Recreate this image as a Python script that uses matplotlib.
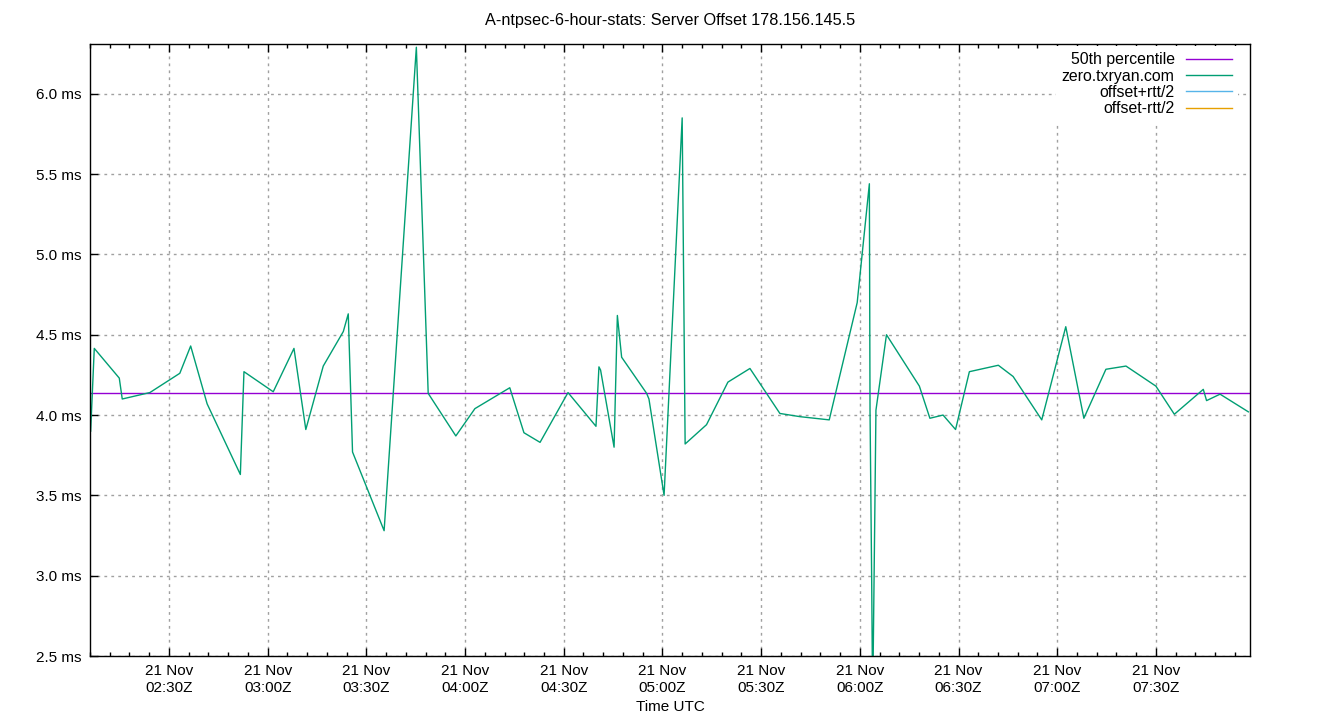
import pandas as pd
import numpy as np
import matplotlib
matplotlib.use('agg')
import matplotlib.pyplot as plt
import matplotlib.dates as mdates
from matplotlib.ticker import FuncFormatter, MultipleLocator

plt.rcParams['font.family'] = ['Liberation Sans', 'DejaVu Sans']

##### data (21 Nov, UTC)
day = '2025-11-21 '
times = ['02:06:12', '02:07:18', '02:14:54', '02:15:48', '02:24:12', '02:33:18',
         '02:36:36', '02:41:36', '02:51:42', '02:52:48', '03:01:42', '03:08:00',
         '03:11:36', '03:16:54', '03:23:00', '03:24:30', '03:25:48', '03:35:24',
         '03:45:12', '03:48:48', '03:57:12', '04:03:00', '04:13:36', '04:17:54',
         '04:22:48', '04:31:18', '04:39:48', '04:40:42', '04:41:12', '04:45:18',
         '04:46:18', '04:47:36', '04:55:12', '04:55:54', '05:00:30', '05:06:00',
         '05:06:54', '05:13:24', '05:19:54', '05:26:36', '05:35:42', '05:41:48',
         '05:50:42', '05:59:12', '06:02:54', '06:03:06', '06:03:36', '06:03:54',
         '06:04:36', '06:04:54', '06:08:06', '06:18:06', '06:21:18', '06:25:18',
         '06:29:06', '06:33:18', '06:42:06', '06:46:36', '06:55:18', '07:02:36',
         '07:08:06', '07:14:48', '07:20:54', '07:30:00', '07:35:36', '07:44:24',
         '07:45:24', '07:49:30', '07:58:06']
offset_ms = [3.90, 4.415, 4.23, 4.10, 4.14, 4.26,
             4.43, 4.07, 3.63, 4.27, 4.145, 4.415,
             3.91, 4.305, 4.52, 4.63, 3.77, 3.28,
             6.29, 4.135, 3.87, 4.04, 4.17, 3.89,
             3.83, 4.14, 3.93, 4.30, 4.28, 3.80,
             4.62, 4.36, 4.135, 4.10, 3.50, 5.85,
             3.82, 3.94, 4.205, 4.29, 4.01, 3.99,
             3.97, 4.70, 5.44, 4.03, 2.98, 2.20,
             3.47, 4.03, 4.50, 4.18, 3.98, 4.00,
             3.91, 4.27, 4.31, 4.24, 3.97, 4.55,
             3.98, 4.285, 4.305, 4.18, 4.005, 4.16,
             4.09, 4.13, 4.02]
median_ms = 4.137
x_start = '02:06:00'
x_end = '07:58:36'
y_min, y_max = 2.5, 6.31
#####


def main():
    t = pd.to_datetime([day + s for s in times])
    fig = plt.figure(figsize=(13.4, 7.2), dpi=100)
    ax = fig.add_axes([90/1340, 64/720, 1160/1340, 612/720])

    ax.plot([pd.Timestamp(day + x_start), pd.Timestamp(day + x_end)],
            [median_ms, median_ms], color='#9400d3', lw=1, label='50th percentile')
    ax.plot(t, offset_ms, color='#009e73', lw=1, label='zero.txryan.com')
    ax.plot([], [], color='#56b4e9', lw=1, label='offset+rtt/2')
    ax.plot([], [], color='#e69f00', lw=1, label='offset-rtt/2')

    ax.set_xlim(pd.Timestamp(day + x_start), pd.Timestamp(day + x_end))
    ax.set_ylim(y_min, y_max)

    ax.xaxis.set_major_locator(mdates.MinuteLocator(byminute=[0, 30]))
    ax.xaxis.set_minor_locator(mdates.MinuteLocator(byminute=range(0, 60, 6)))
    ax.xaxis.set_major_formatter(mdates.DateFormatter('%d %b\n%H:%MZ'))
    ax.yaxis.set_major_locator(MultipleLocator(0.5))
    ax.yaxis.set_major_formatter(FuncFormatter(lambda v, p: '%.1f ms' % v))

    ax.tick_params(which='both', direction='in', top=True, right=False,
                   labelsize=11, width=1)
    ax.tick_params(which='major', length=6, pad=6)
    ax.tick_params(which='minor', length=3)
    ax.grid(True, which='major', color='#a0a0a0', linestyle=(0, (2, 3)), lw=1)
    for sp in ax.spines.values():
        sp.set_linewidth(1)

    ax.set_xlabel('Time UTC', fontsize=11, labelpad=4)
    ax.set_title('A-ntpsec-6-hour-stats: Server Offset 178.156.145.5',
                 fontsize=11.7, pad=14)

    leg = ax.legend(loc='upper right', bbox_to_anchor=(0.9897, 0.9967),
                    borderaxespad=0, markerfirst=False, fontsize=11.4,
                    frameon=True, fancybox=False, handlelength=2.9,
                    labelspacing=0.08, handletextpad=0.7)
    leg.get_frame().set_edgecolor('none')
    leg.get_frame().set_facecolor('white')
    leg.get_frame().set_alpha(1)
    leg.set_zorder(2.4)  # keep the top ticks visible above the legend box
    for txt in leg.get_texts():
        txt.set_ha('right')
    leg._legend_box.align = 'right'

    fig.savefig('out.png', dpi=100)
    plt.close('all')


if __name__ == '__main__':
    main()
